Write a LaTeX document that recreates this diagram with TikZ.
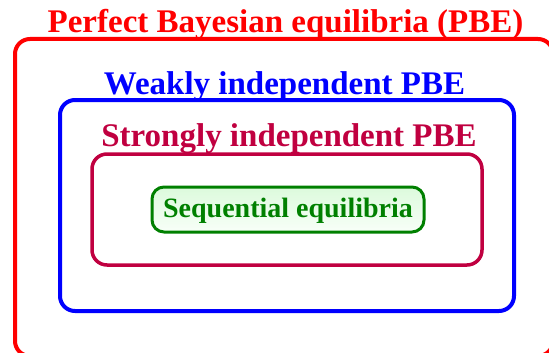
\documentclass[tikz,border=0pt]{standalone}
\usepackage{fontspec}
\setmainfont{Liberation Serif}
\definecolor{pbered}{RGB}{255,0,0}
\definecolor{pbeblue}{RGB}{0,0,255}
\definecolor{pbepurple}{RGB}{192,0,64}
\definecolor{pbegreen}{RGB}{0,128,0}
\definecolor{pbelight}{RGB}{220,250,220}
\definecolor{pbepale}{RGB}{248,255,248}
\tikzset{
  setbox/.style={rounded corners=15pt, line width=4pt},
  settitle/.style={inner sep=0pt, anchor=base, font=\bfseries\fontsize{33}{38}\selectfont}
}
\begin{document}
\begin{tikzpicture}[x=1pt,y=-1pt]
\useasboundingbox (0,0) rectangle (549,353);
\clip (0,0) rectangle (549,353);
\draw[setbox, pbered] (15,39) rectangle (553,356);
\draw[setbox, pbeblue] (60,100) rectangle (514,311);
\draw[setbox, pbepurple, line width=3.5pt] (92,154) rectangle (482,265);
\node[draw=pbegreen, line width=3pt, rounded corners=12pt, top color=pbelight, bottom color=pbepale,
      minimum width=272pt, minimum height=45pt, inner sep=0pt] (seq) at (288,209.5) {};
\node[inner sep=0pt, anchor=base, font=\bfseries\fontsize{28}{32}\selectfont, text=pbegreen]
      (seqt) at (288,217) {Sequential equilibria};
\node[settitle, text=pbered] (t1) at (285.5,33) {Perfect Bayesian equilibria (PBE)};
\node[settitle, text=pbeblue] (t2) at (284.5,95) {Weakly independent PBE};
\node[settitle, text=pbepurple] (t3) at (289,146) {Strongly independent PBE};
\end{tikzpicture}
\end{document}
